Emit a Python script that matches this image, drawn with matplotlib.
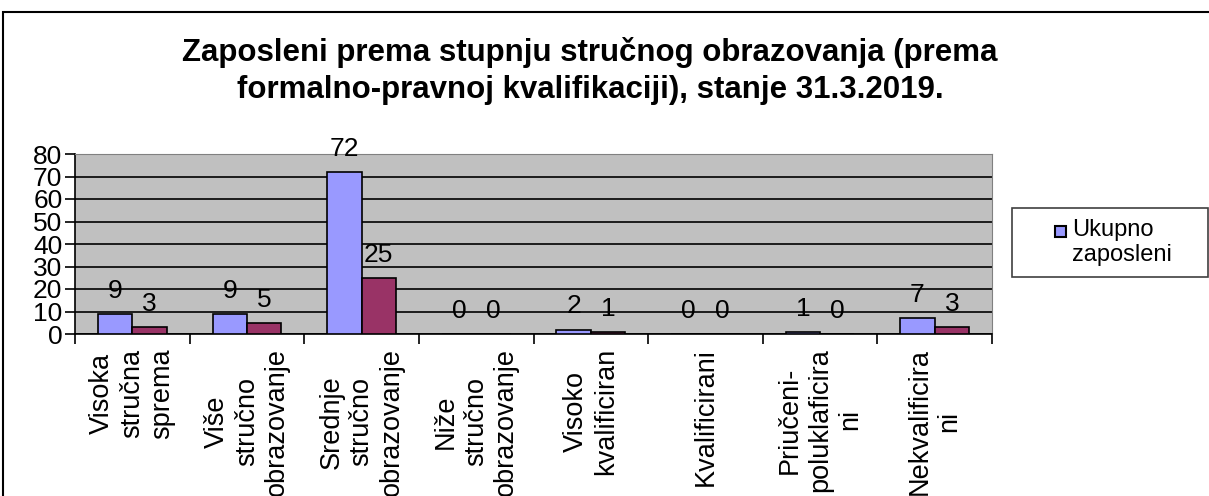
import numpy as np
import matplotlib
matplotlib.use("Agg")
import matplotlib.pyplot as plt
from matplotlib.patches import Rectangle

plt.rcParams['font.family'] = ['Liberation Sans', 'DejaVu Sans']

kategorije = ['Visoka\nstručna\nsprema', 'Više\nstručno\nobrazovanje',
              'Srednje\nstručno\nobrazovanje', 'Niže\nstručno\nobrazovanje',
              'Visoko\nkvalificiran', 'Kvalificirani',
              'Priučeni-\npoluklaficira\nni', 'Nekvalificira\nni']
ukupno = [9, 9, 72, 0, 2, 0, 1, 7]
druga_serija = [3, 5, 25, 0, 1, 0, 0, 3]
naslov = 'Zaposleni prema stupnju stručnog obrazovanja (prema\nformalno-pravnoj kvalifikaciji), stanje 31.3.2019.'
legenda = 'Ukupno\nzaposleni'

W, H = 1209, 496
fig = plt.figure(figsize=(W / 100, H / 100), dpi=100)
fig.patch.set_facecolor('white')

# okvir grafikona
fig.patches.append(Rectangle((3 / W, -0.1), 1.2, 1 - 12 / H + 0.1, transform=fig.transFigure,
                             fill=False, edgecolor='black', linewidth=1.5))

ax = fig.add_axes([75 / W, 1 - 334 / H, (992 - 75) / W, (334 - 154) / H])
ax.set_facecolor('#C0C0C0')

x = np.arange(len(kategorije))
w = 0.3
b1 = ax.bar(x - w / 2, ukupno, w, color='#9999FF', edgecolor='black', linewidth=1.2, zorder=3)
b2 = ax.bar(x + w / 2, druga_serija, w, color='#993366', edgecolor='black', linewidth=1.2, zorder=3)

for bars in (b1, b2):
    for r in bars:
        ax.annotate(str(int(r.get_height())), (r.get_x() + r.get_width() / 2, r.get_height()),
                    xytext=(0, 8), textcoords='offset points', ha='center', va='bottom',
                    fontsize=19, annotation_clip=False)

ax.set_xlim(-0.5, len(kategorije) - 0.5)
ax.set_ylim(0, 80)
ax.set_yticks(range(0, 81, 10))
ax.yaxis.grid(True, color='black', linewidth=1.2)
ax.set_axisbelow(True)
ax.tick_params(axis='y', labelsize=19, length=7, width=1.2, pad=2, direction='out')

ax.set_xticks(np.arange(-0.5, len(kategorije)), labels=[])
ax.set_xticks(x, labels=kategorije, minor=True)
ax.tick_params(axis='x', which='major', length=7, width=1.2, direction='out')
ax.tick_params(axis='x', which='minor', length=0, pad=10, labelsize=19.5, labelrotation=90)
for t in ax.get_xminorticklabels():
    t.set_multialignment('center')
    t.set_verticalalignment('top')

for s in ['top', 'right']:
    ax.spines[s].set_color('#808080')
for s in ['left', 'bottom']:
    ax.spines[s].set_color('black')
    ax.spines[s].set_linewidth(1.2)

fig.text(590 / W, 1 - 71 / H, naslov, ha='center', va='center', fontsize=22.5,
         fontweight='bold', linespacing=1.3)

# legenda
fig.patches.append(Rectangle((1012 / W, 1 - 277 / H), (1208 - 1012) / W, 69 / H,
                             transform=fig.transFigure, facecolor='white', edgecolor='#404040',
                             linewidth=1.2))
fig.patches.append(Rectangle((1055 / W, 1 - 237 / H), 11 / W, 11 / H, transform=fig.transFigure,
                             facecolor='#9999FF', edgecolor='black', linewidth=1.5))
fig.text(1072 / W, 1 - 219 / H, legenda, ha='left', va='top', fontsize=17, linespacing=1.2)

fig.savefig('out.png', dpi=100)
